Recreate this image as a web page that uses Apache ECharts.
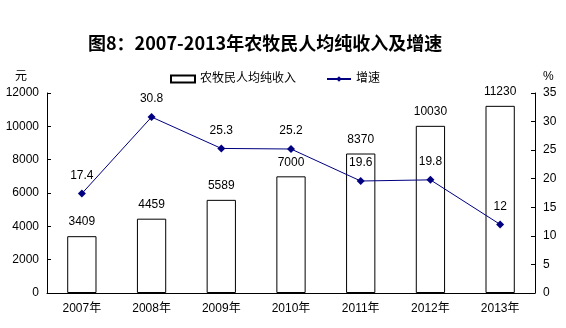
<!DOCTYPE html>
<html><head><meta charset="utf-8">
<script src="https://cdn.jsdelivr.net/npm/echarts@6/dist/echarts.min.js"></script>
<style>html,body{margin:0;padding:0;background:#fff}#c{width:566px;height:328px}</style>
</head><body><div id="c"></div>
<script>
const categories = ['2007年','2008年','2009年','2010年','2011年','2012年','2013年'];
const income = [3409, 4459, 5589, 7000, 8370, 10030, 11230];
const growth = [17.4, 30.8, 25.3, 25.2, 19.6, 19.8, 12];
const leftTicks = {min: 0, max: 12000, interval: 2000};
const rightTicks = {min: 0, max: 35, interval: 5};
const F = 'Arial, "Liberation Sans", "Noto Sans CJK SC", sans-serif';
const chart = echarts.init(document.getElementById('c'));
chart.setOption({
  animation: false,
  backgroundColor: '#fff',
  title: {text: '图8：2007-2013年农牧民人均纯收入及增速', left: 83, top: 29,
    textStyle: {fontFamily: '"Noto Sans CJK SC", sans-serif', fontSize: 18, fontWeight: 'bold', color: '#000'}},
  legend: {top: 68, left: 165, itemGap: 30, itemWidth: 24, itemHeight: 7,
    textStyle: {fontFamily: F, fontSize: 12, color: '#000'},
    data: [{name: '农牧民人均纯收入', icon: 'rect'}, {name: '增速'}]},
  grid: {left: 47, right: 31, top: 93, bottom: 35},
  xAxis: {type: 'category', data: categories,
    axisLine: {lineStyle: {color: '#000'}},
    axisTick: {inside: true, length: 5, lineStyle: {color: '#000'}},
    axisLabel: {color: '#000', fontFamily: F, fontSize: 12, margin: 10}},
  yAxis: [
    {type: 'value', min: leftTicks.min, max: leftTicks.max, interval: leftTicks.interval,
     name: '元', nameGap: 10, nameTextStyle: {color: '#000', fontSize: 12, fontFamily: F, align: 'right', padding: [0, 20, 0, 0]},
     axisLine: {show: true, lineStyle: {color: '#000'}},
     axisTick: {show: true, inside: true, length: 4, lineStyle: {color: '#000'}},
     axisLabel: {color: '#000', fontFamily: F, fontSize: 12, margin: 8, formatter: v => String(v)},
     splitLine: {show: false}},
    {type: 'value', min: rightTicks.min, max: rightTicks.max, interval: rightTicks.interval,
     name: '%', nameGap: 10, nameTextStyle: {color: '#000', fontSize: 12, fontFamily: F, align: 'left', padding: [0, 0, 0, 8]},
     axisLine: {show: true, lineStyle: {color: '#000'}},
     axisTick: {show: true, inside: true, length: 4, lineStyle: {color: '#000'}},
     axisLabel: {color: '#000', fontFamily: F, fontSize: 12, margin: 8},
     splitLine: {show: false}}
  ],
  series: [
    {name: '农牧民人均纯收入', type: 'bar', data: income, barWidth: '42%',
     itemStyle: {color: '#fff', borderColor: '#000', borderWidth: 1},
     label: {show: true, position: 'top', distance: 8, color: '#000', fontFamily: F, fontSize: 12}},
    {name: '增速', type: 'line', yAxisIndex: 1, data: growth,
     symbol: 'diamond', symbolSize: 8,
     lineStyle: {color: '#000080', width: 1},
     itemStyle: {color: '#000080'},
     label: {show: true, position: 'top', distance: 8, color: '#000', fontFamily: F, fontSize: 12}}
  ]
});
</script></body></html>
